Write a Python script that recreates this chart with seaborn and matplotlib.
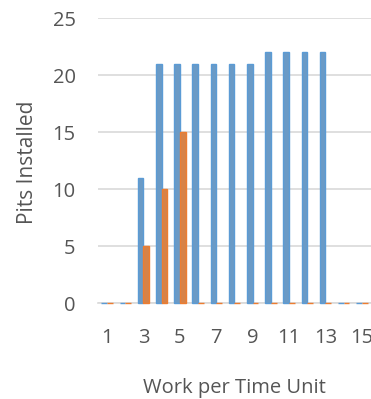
import matplotlib
matplotlib.use("Agg")
import matplotlib.pyplot as plt
import pandas as pd
import seaborn as sns

# values
work_units = list(range(1, 16))
series_a = [0, 0, 11, 21, 21, 21, 21, 21, 21, 22, 22, 22, 22, 0, 0]
series_b = [0, 0, 5, 10, 15, 0, 0, 0, 0, 0, 0, 0, 0, 0, 0]
series_names = ["A", "B"]
bar_colors = ["#5B9BD5", "#ED7D31"]
y_ticks = [0, 5, 10, 15, 20, 25]
x_ticklabels = [str(w) if w % 2 == 1 else "" for w in work_units]

df = pd.DataFrame({
    "work": work_units * 2,
    "pits": series_a + series_b,
    "series": [series_names[0]] * 15 + [series_names[1]] * 15,
})

sns.set_theme(style="white")
plt.rcParams["font.family"] = ["Open Sans", "DejaVu Sans"]
text_gray = "#555555"

fig = plt.figure(figsize=(3.71, 3.99), dpi=100)
ax = fig.add_axes([0.264, 0.2406, 0.736, 0.714])

sns.barplot(data=df, x="work", y="pits", hue="series", palette=bar_colors,
            width=0.62, gap=0.0, linewidth=1.0, edgecolor=None,
            legend=False, ax=ax)
# zero-height bars show up as short dashes on the baseline, like Excel
for patch, c in zip(ax.patches, [bar_colors[0]] * 15 + [bar_colors[1]] * 15):
    patch.set_edgecolor(c)
    patch.set_zorder(3)
    patch.set_clip_on(False)

ax.set_ylim(0, 25)
ax.set_xlim(-0.5, 14.5)
ax.set_yticks(y_ticks)
ax.set_xticks(range(15))
ax.set_xticklabels(x_ticklabels)
ax.yaxis.grid(True, color="#D9D9D9", linewidth=1.2)
ax.set_axisbelow(True)
for s in ["top", "right", "left"]:
    ax.spines[s].set_visible(False)
ax.spines["bottom"].set_color("#D9D9D9")
ax.spines["bottom"].set_linewidth(1.2)
ax.tick_params(axis="both", length=0, labelsize=14.5, labelcolor=text_gray)
ax.tick_params(axis="y", pad=16)
ax.tick_params(axis="x", pad=18)

ax.set_xlabel("Work per Time Unit", fontsize=14.5, color=text_gray)
ax.set_ylabel("Pits Installed", fontsize=15, color=text_gray)
ax.xaxis.set_label_coords(0.5, -0.262)
ax.yaxis.set_label_coords(-0.22, 0.493)

fig.savefig("out.png", dpi=100)
